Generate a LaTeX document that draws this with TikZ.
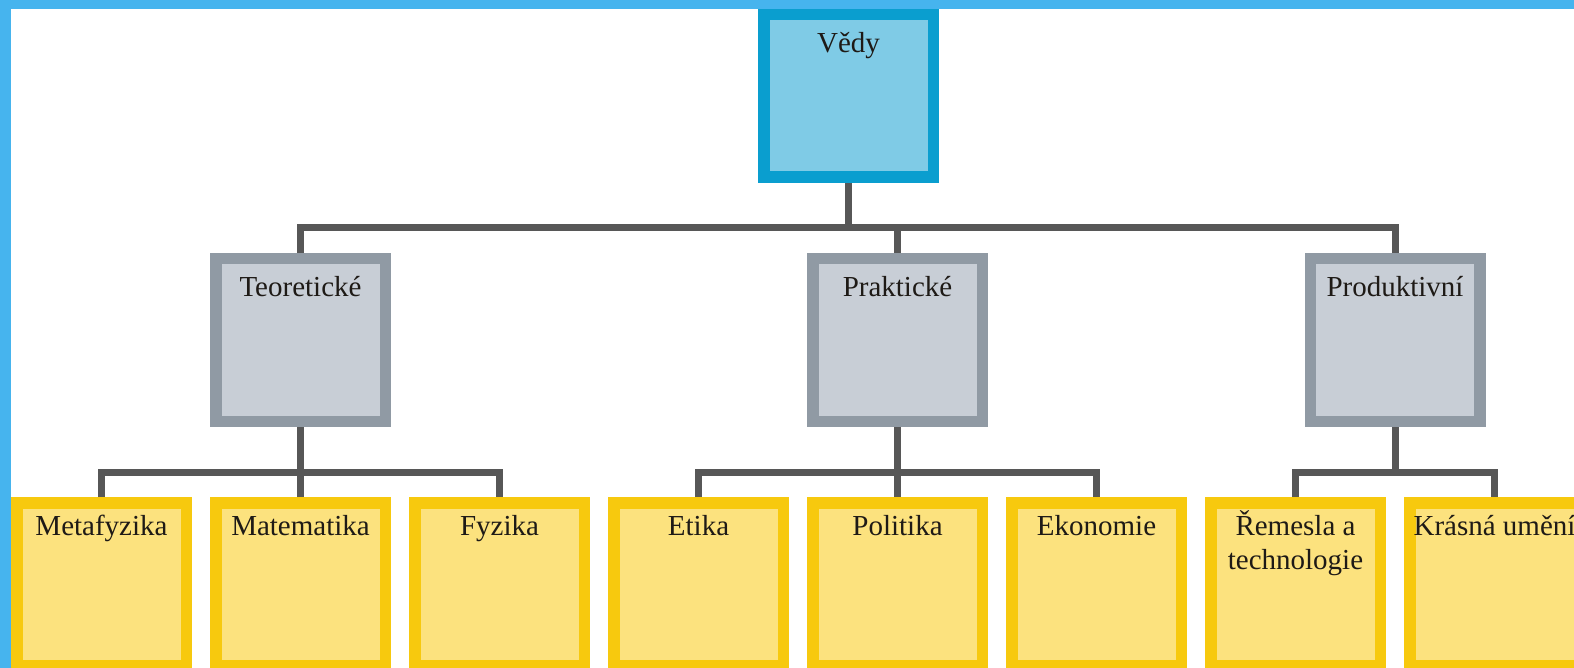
\documentclass[tikz,border=0pt]{standalone}
\usepackage{fontspec}
\setmainfont{Liberation Serif}
\usepackage{xcolor}
\usepackage{tikz}
\usetikzlibrary{positioning,calc}

\definecolor{frameblue}{HTML}{46B4EE}
\definecolor{rootline}{HTML}{0A9ECF}
\definecolor{rootfill}{HTML}{7FCBE6}
\definecolor{branchline}{HTML}{909AA4}
\definecolor{branchfill}{HTML}{C8CED6}
\definecolor{leafline}{HTML}{F7C90E}
\definecolor{leaffill}{HTML}{FCE27E}
\definecolor{linkgrey}{HTML}{575757}
\definecolor{textdark}{HTML}{1E1A16}

\begin{document}
\begin{tikzpicture}[
    x=1pt, y=1pt,
    node distance=70pt and 18pt,
    box/.style={rectangle, draw, line width=11.5pt, minimum width=169.5pt, minimum height=162.5pt, inner sep=0pt, align=center, font=\fontsize{29}{34}\selectfont, text=textdark},
    root/.style={box, draw=rootline, fill=rootfill, text height=38.25pt, text depth=124.25pt},
    branch/.style={box, draw=branchline, fill=branchfill, text height=38.25pt, text depth=124.25pt},
    leaf/.style={box, draw=leafline, fill=leaffill, text height=32.25pt, text depth=130.25pt},
    link/.style={draw=linkgrey, line width=7pt}
]
\useasboundingbox (0,0) rectangle (1574,-668);

\node[leaf, anchor=north west] (metafyzika) at (11,-497) {Metafyzika};
\node[leaf, right=of metafyzika] (matematika) {Matematika};
\node[leaf, right=of matematika] (fyzika) {Fyzika};
\node[leaf, right=of fyzika] (etika) {Etika};
\node[leaf, right=of etika] (politika) {Politika};
\node[leaf, right=of politika] (ekonomie) {Ekonomie};
\node[leaf, right=of ekonomie, text height=66.25pt, text depth=96.25pt] (remesla) {Řemesla a\\technologie};
\node[leaf, right=of remesla] (krasna) {Krásná umění};

\coordinate (prodbase) at ($(remesla.north)!0.5!(krasna.north)$);
\node[branch, above=of matematika] (teoreticke) {Teoretické};
\node[branch, above=of politika] (prakticke) {Praktické};
\node[branch, above=of prodbase] (produktivni) {Produktivní};

\node[root, above=of prakticke, xshift=-49pt] (vedy) {Vědy};

\draw[link] (vedy.south) -- ++(0,-45) coordinate (topbus);
\draw[link] (teoreticke.north) |- (topbus) -| (produktivni.north);
\draw[link] (prakticke.north) -- (prakticke.north |- topbus);

\draw[link] (teoreticke.south) -- ++(0,-45) coordinate (teobus);
\draw[link] (metafyzika.north) |- (teobus) -| (fyzika.north);
\draw[link] (matematika.north) -- (teobus);

\draw[link] (prakticke.south) -- ++(0,-45) coordinate (prabus);
\draw[link] (etika.north) |- (prabus) -| (ekonomie.north);
\draw[link] (politika.north) -- (prabus);

\draw[link] (produktivni.south) -- ++(0,-45) coordinate (probus);
\draw[link] (remesla.north) |- (probus) -| (krasna.north);

\fill[frameblue] (0,0) rectangle (1574,-9);
\fill[frameblue] (0,0) rectangle (11,-668);

\end{tikzpicture}
\end{document}
